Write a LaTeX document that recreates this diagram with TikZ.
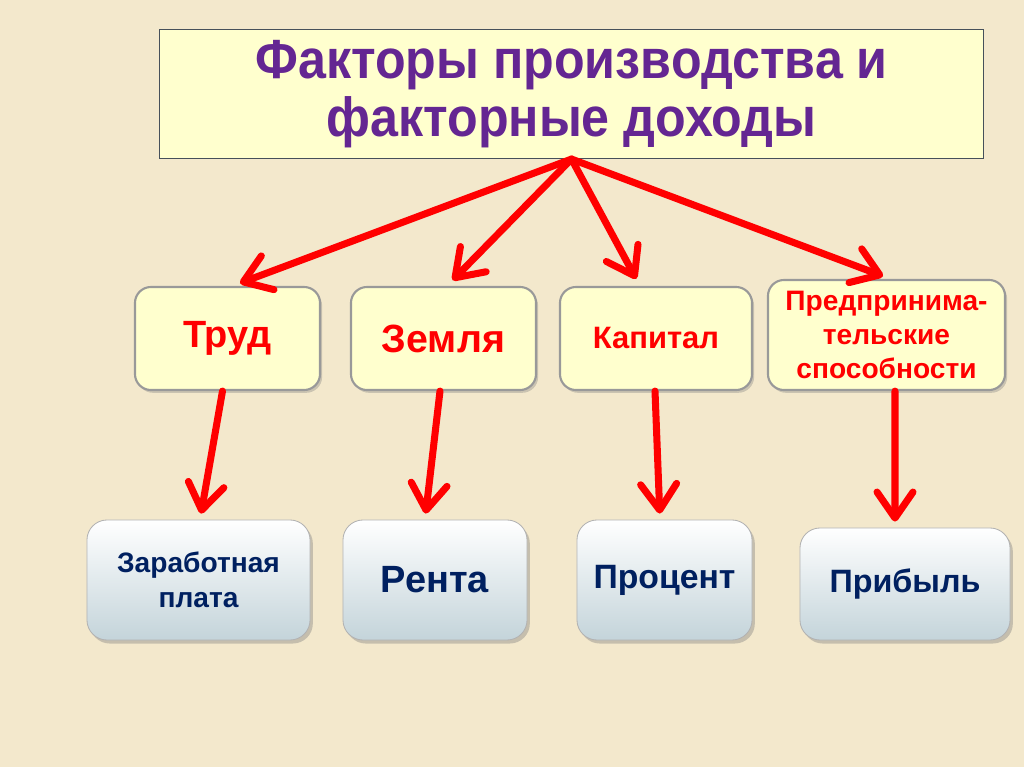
\documentclass[tikz,border=0pt]{standalone}
\usepackage{fontspec}
\setmainfont{Liberation Sans}
\usetikzlibrary{arrows.meta,shadows}
\definecolor{parch}{RGB}{243,232,204}
\definecolor{lemon}{RGB}{255,255,206}
\definecolor{plum}{RGB}{100,38,146}
\definecolor{navy}{RGB}{0,32,96}
\definecolor{frost}{RGB}{196,212,218}
\begin{document}
\begin{tikzpicture}
	[x=0.025cm, y=-0.025cm,
	title/.style={draw={rgb,255:red,70;green,80;blue,90}, line width=0.8pt, fill=lemon, align=center, inner sep=0pt,
		font=\fontsize{35}{36}\selectfont\bfseries, text=plum},
	factor/.style={draw=gray!80, line width=1.5pt, fill=lemon, rounded corners=0.4cm, align=center, inner sep=0pt,
		minimum height=2.575cm, text=red,
		drop shadow={shadow xshift=1.5pt, shadow yshift=-2pt, opacity=0.35}},
	income/.style={draw=gray!60, line width=0.6pt, top color=white, bottom color=frost, rounded corners=0.5cm,
		align=center, inner sep=0pt, minimum height=3cm, text=navy,
		drop shadow={shadow xshift=2pt, shadow yshift=-2.5pt, opacity=0.4}},
	arr/.style={red, line width=5pt, line cap=round, -{Straight Barb[length=6.5mm, width=9mm, round]}}]
	\fill [parch] (0,0) rectangle (1024,767);
	\useasboundingbox (0,0) rectangle (1024,767);
	\node [title, minimum width=20.575cm, minimum height=3.225cm] (head) at (571.5,94)
		{\scalebox{1.02}[1.12]{Факторы производства и}\\[4pt]\scalebox{1.02}[1.12]{факторные доходы}};
	\node [factor, minimum width=4.625cm, font=\fontsize{27}{30}\selectfont\bfseries] (trud) at (227.5,338.5) {Труд};
	\node [factor, minimum width=4.625cm, font=\fontsize{28}{30}\selectfont\bfseries] (zemlya) at (443.5,338.5) {Земля};
	\node [factor, minimum width=4.8cm, font=\fontsize{22}{24}\selectfont\bfseries] (kapital) at (656,338.5) {Капитал};
	\node [factor, minimum width=5.925cm, minimum height=2.75cm, font=\fontsize{20}{24.5}\selectfont\bfseries] (predpr) at (886.5,335)
		{Предпринима-\\тельские\\способности};
	\node [income, minimum width=5.575cm, font=\fontsize{20}{25}\selectfont\bfseries] (zarplata) at (198.5,580) {Заработная\\плата};
	\node [income, minimum width=4.6cm, font=\fontsize{27}{30}\selectfont\bfseries] (renta) at (435,580) {Рента};
	\node [income, minimum width=4.375cm, font=\fontsize{24}{26}\selectfont\bfseries] (procent) at (664.5,580) {Процент};
	\node [income, minimum width=5.25cm, minimum height=2.8cm, font=\fontsize{23}{26}\selectfont\bfseries] (pribyl) at (905,584) {Прибыль};
	\foreach \f/\dx in {trud/5,zemlya/3.5,kapital/-16,predpr/4}
		\draw [arr, shorten >=0.2cm] (head.south) -- ([xshift=\dx*0.025cm]\f.north);
	\foreach \f/\i/\da/\db in {trud/zarplata/-5/1.5,zemlya/renta/-3.5/-10,kapital/procent/-1/-4.5,predpr/pribyl/8.5/-10}
		\draw [arr, shorten >=0.15cm] ([xshift=\da*0.025cm]\f.south) -- ([xshift=\db*0.025cm]\i.north);
\end{tikzpicture}
\end{document}
